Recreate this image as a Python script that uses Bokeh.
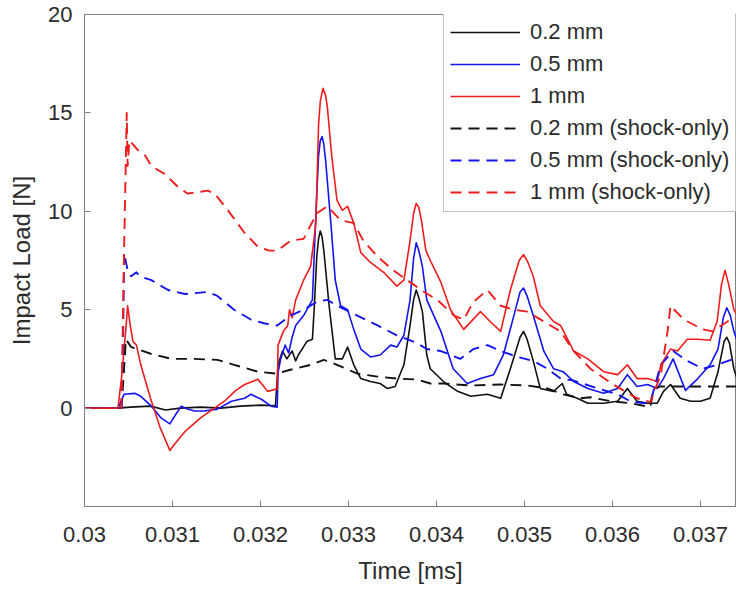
from bokeh.plotting import figure
from bokeh.models import Range1d, FixedTicker, Legend, LegendItem
from bokeh.embed import file_html
from bokeh.resources import INLINE

# ---------------- data ----------------
x_ticks = [0.030, 0.031, 0.032, 0.033, 0.034, 0.035, 0.036, 0.037]
x_tick_labels = ["0.03", "0.031", "0.032", "0.033", "0.034", "0.035", "0.036", "0.037"]
y_ticks = [0, 5, 10, 15, 20]
y_tick_labels = ["0", "5", "10", "15", "20"]

# 1 mm (solid)
t_1mm = [0.03000, 0.03038, 0.03042, 0.03047, 0.03049, 0.03052, 0.03055, 0.03059, 0.03064, 0.03075,
         0.03086, 0.03097, 0.03103, 0.03114, 0.03132, 0.03159, 0.03172, 0.03182, 0.03197, 0.03202,
         0.03208, 0.03216, 0.03219, 0.03220, 0.03226, 0.03231, 0.03233, 0.03236, 0.03240, 0.03249,
         0.03257, 0.03263, 0.03266, 0.03268, 0.03271, 0.03274, 0.03276, 0.03281, 0.03287, 0.03293,
         0.03299, 0.03306, 0.03314, 0.03325, 0.03340, 0.03355, 0.03363, 0.03370, 0.03374, 0.03377,
         0.03380, 0.03383, 0.03388, 0.03393, 0.03405, 0.03416, 0.03431, 0.03450, 0.03461, 0.03473,
         0.03484, 0.03494, 0.03499, 0.03504, 0.03510, 0.03518, 0.03533, 0.03541, 0.03556, 0.03572,
         0.03590, 0.03606, 0.03617, 0.03628, 0.03640, 0.03651, 0.03655, 0.03666, 0.03674, 0.03685,
         0.03697, 0.03711, 0.03719, 0.03724, 0.03728, 0.03732, 0.03738, 0.03745]
f_1mm = [0.0, 0.0, 1.5, 4.0, 5.2, 4.2, 3.4, 3.2, 2.2, 0.5,
         -1.0, -2.15, -1.8, -1.2, -0.5, 0.35, 0.9, 1.2, 1.46, 1.2,
         0.85, 0.95, 0.95, 3.2, 3.9, 4.2, 5.0, 4.6, 5.5, 6.5,
         7.2, 9.4, 14.4, 15.6, 16.25, 15.9, 15.3, 12.8, 10.55, 10.05,
         10.25, 9.4, 7.9, 7.4, 6.9, 6.2, 6.5, 8.5, 9.9, 10.4,
         10.2, 9.5, 8.0, 7.5, 6.4, 5.0, 4.0, 4.9, 4.4, 3.9,
         6.0, 7.5, 7.8, 7.4, 6.7, 5.2, 4.4, 4.2, 2.9, 2.5,
         1.85, 1.7, 2.2, 1.5, 1.5, 1.35, 2.2, 3.0, 2.9, 3.5,
         3.5, 3.45, 4.4, 6.3, 7.0, 6.3, 5.0, 4.5]

# 0.5 mm (solid)
t_05mm = [0.03000, 0.03038, 0.03045, 0.03057, 0.03064, 0.03076, 0.03087, 0.03097, 0.03104, 0.03110,
          0.03117, 0.03125, 0.03136, 0.03151, 0.03167, 0.03182, 0.03189, 0.03201, 0.03212, 0.03219,
          0.03220, 0.03223, 0.03228, 0.03232, 0.03236, 0.03240, 0.03249, 0.03259, 0.03263, 0.03266,
          0.03268, 0.03270, 0.03272, 0.03274, 0.03280, 0.03285, 0.03291, 0.03299, 0.03306, 0.03314,
          0.03325, 0.03336, 0.03348, 0.03355, 0.03363, 0.03370, 0.03374, 0.03377, 0.03380, 0.03384,
          0.03389, 0.03405, 0.03419, 0.03435, 0.03450, 0.03465, 0.03476, 0.03488, 0.03495, 0.03499,
          0.03503, 0.03510, 0.03522, 0.03533, 0.03544, 0.03556, 0.03572, 0.03590, 0.03606, 0.03617,
          0.03628, 0.03640, 0.03651, 0.03658, 0.03669, 0.03683, 0.03697, 0.03711, 0.03720, 0.03726,
          0.03730, 0.03734, 0.03738, 0.03745]
f_05mm = [0.0, 0.0, 0.7, 0.75, 0.6, 0.1, -0.5, -0.8, -0.3, 0.1,
          -0.05, -0.15, -0.15, -0.05, 0.35, 0.5, 0.7, 0.45, 0.1, 0.05,
          1.8, 2.5, 3.2, 2.8, 3.6, 4.2, 4.7, 5.5, 9.9, 12.8,
          13.6, 13.8, 13.4, 12.6, 9.4, 6.5, 5.2, 5.0, 4.0, 3.0,
          2.6, 2.7, 3.2, 3.1, 3.7, 5.5, 7.6, 8.4, 8.0, 7.2,
          5.5, 3.9, 2.0, 1.25, 1.5, 1.7, 2.7, 4.7, 5.9, 6.1,
          5.7, 4.7, 2.9, 2.0, 1.85, 1.35, 1.0, 0.75, 1.0, 1.7,
          1.1, 1.2, 1.0, 1.5, 2.5, 0.9, 1.5, 2.2, 3.0, 4.6,
          5.1, 4.7, 3.9, 3.0]

# 0.2 mm (solid)
t_02mm = [0.03000, 0.03038, 0.03052, 0.03075, 0.03092, 0.03109, 0.03132, 0.03155, 0.03177, 0.03200,
          0.03217, 0.03220, 0.03225, 0.03230, 0.03236, 0.03240, 0.03243, 0.03253, 0.03259, 0.03261,
          0.03264, 0.03266, 0.03268, 0.03270, 0.03272, 0.03278, 0.03285, 0.03293, 0.03299, 0.03306,
          0.03314, 0.03325, 0.03336, 0.03344, 0.03353, 0.03363, 0.03370, 0.03374, 0.03377, 0.03380,
          0.03384, 0.03389, 0.03393, 0.03408, 0.03424, 0.03439, 0.03458, 0.03473, 0.03484, 0.03495,
          0.03499, 0.03503, 0.03510, 0.03518, 0.03533, 0.03543, 0.03548, 0.03560, 0.03572, 0.03590,
          0.03606, 0.03617, 0.03628, 0.03640, 0.03651, 0.03658, 0.03666, 0.03677, 0.03689, 0.03700,
          0.03711, 0.03720, 0.03727, 0.03730, 0.03733, 0.03738, 0.03745]
f_02mm = [0.0, 0.0, 0.05, 0.1, -0.1, 0.0, 0.05, 0.0, 0.1, 0.15,
          0.12, 2.2, 2.9, 2.5, 2.9, 2.4, 2.7, 3.4, 3.5, 5.0,
          7.7, 8.6, 9.0, 8.7, 8.0, 5.2, 2.5, 2.5, 3.1, 2.2,
          1.5, 1.35, 1.25, 1.0, 1.1, 2.2, 4.2, 5.5, 6.0, 5.6,
          4.9, 2.7, 2.0, 1.35, 0.85, 0.6, 0.7, 0.5, 2.0, 3.6,
          3.9, 3.5, 2.4, 1.0, 0.85, 1.25, 0.7, 0.5, 0.25, 0.25,
          0.35, 1.0, 0.35, 0.25, 0.25, 0.85, 1.2, 0.5, 0.35, 0.35,
          0.5, 1.85, 3.4, 3.6, 3.3, 2.0, 1.0]

# 0.2 mm (shock-only)
t_02s = [0.03000, 0.03042, 0.03045, 0.03047, 0.03053, 0.03060, 0.03076, 0.03099, 0.03125, 0.03151,
         0.03170, 0.03197, 0.03218, 0.03234, 0.03257, 0.03272, 0.03287, 0.03310, 0.03333, 0.03355,
         0.03378, 0.03393, 0.03408, 0.03439, 0.03473, 0.03503, 0.03526, 0.03544, 0.03564, 0.03575,
         0.03598, 0.03620, 0.03638, 0.03643, 0.03647, 0.03655, 0.03689, 0.03719, 0.03745]
f_02s = [0.0, 0.0, 2.0, 3.5, 3.1, 3.0, 2.75, 2.5, 2.5, 2.45,
         2.2, 1.85, 1.75, 1.95, 2.2, 2.45, 2.2, 1.75, 1.6, 1.5,
         1.45, 1.25, 1.25, 1.15, 1.2, 1.15, 1.0, 0.7, 0.5, 0.55,
         0.35, 0.25, 0.1, 0.05, 1.0, 1.1, 1.1, 1.1, 1.1]

# 0.5 mm (shock-only)
t_05s = [0.03000, 0.03042, 0.03044, 0.03045, 0.03049, 0.03053, 0.03059, 0.03063, 0.03076, 0.03095,
         0.03114, 0.03140, 0.03151, 0.03170, 0.03189, 0.03205, 0.03219, 0.03234, 0.03249, 0.03264,
         0.03276, 0.03287, 0.03310, 0.03333, 0.03355, 0.03378, 0.03389, 0.03405, 0.03427, 0.03442,
         0.03458, 0.03473, 0.03492, 0.03510, 0.03526, 0.03541, 0.03556, 0.03583, 0.03606, 0.03620,
         0.03635, 0.03643, 0.03655, 0.03669, 0.03685, 0.03703, 0.03719, 0.03738, 0.03745]
f_05s = [0.0, 0.0, 4.0, 7.9, 7.0, 6.7, 6.9, 6.7, 6.5, 6.0,
         5.8, 5.9, 5.7, 5.0, 4.5, 4.3, 4.2, 4.7, 5.0, 5.4,
         5.5, 5.2, 4.7, 4.2, 3.7, 3.3, 3.0, 2.9, 2.5, 3.0,
         3.2, 2.9, 2.6, 2.4, 2.0, 1.5, 1.4, 1.0, 0.7, 0.35,
         0.25, 0.3, 2.2, 2.9, 2.4, 2.0, 2.2, 2.5, 2.6]

# 1 mm (shock-only)
t_1s = [0.03000, 0.03042, 0.03045, 0.03048, 0.03049, 0.03051, 0.03055, 0.03061, 0.03068, 0.03076,
        0.03091, 0.03106, 0.03117, 0.03140, 0.03148, 0.03163, 0.03182, 0.03197, 0.03210, 0.03219,
        0.03234, 0.03249, 0.03264, 0.03276, 0.03291, 0.03306, 0.03317, 0.03333, 0.03351, 0.03370,
        0.03386, 0.03401, 0.03420, 0.03431, 0.03442, 0.03458, 0.03473, 0.03488, 0.03503, 0.03522,
        0.03541, 0.03556, 0.03575, 0.03601, 0.03628, 0.03643, 0.03655, 0.03663, 0.03666, 0.03681,
        0.03703, 0.03714, 0.03734, 0.03745]
f_1s = [0.0, 0.0, 8.0, 15.0, 12.3, 13.6, 13.4, 13.1, 12.9, 12.3,
        11.9, 11.25, 10.9, 11.05, 10.9, 10.05, 8.9, 8.2, 8.0, 8.0,
        8.5, 8.6, 9.9, 10.25, 9.55, 9.4, 8.5, 7.7, 7.0, 6.4,
        5.9, 5.5, 4.7, 4.5, 5.4, 6.0, 5.2, 5.0, 4.9, 4.4,
        3.9, 2.9, 2.0, 1.2, 0.5, 0.3, 1.7, 4.0, 5.2, 4.5,
        4.0, 3.9, 4.5, 4.6]

series = [
    ("0.2 mm", t_02mm, f_02mm, "#111111", "solid"),
    ("0.5 mm", t_05mm, f_05mm, "#1414f0", "solid"),
    ("1 mm", t_1mm, f_1mm, "#ee1c1c", "solid"),
    ("0.2 mm (shock-only)", t_02s, f_02s, "#111111", "11 7"),
    ("0.5 mm (shock-only)", t_05s, f_05s, "#1414f0", "11 7"),
    ("1 mm (shock-only)", t_1s, f_1s, "#ee1c1c", "11 7"),
]

# ---------------- figure ----------------
FONT = "Liberation Sans"
TXT = "#2b2b2b"
AX = "#808080"

p = figure(width=736, height=592, output_backend="svg", toolbar_location=None,
           x_range=Range1d(0.03, 0.03741), y_range=Range1d(-5, 20),
           min_border_left=84, min_border_right=0, min_border_top=14, min_border_bottom=86)
p.background_fill_color = "white"
p.border_fill_color = "white"
p.outline_line_color = AX
p.outline_line_width = 1
p.xgrid.visible = False
p.ygrid.visible = False

items = []
for name, t, f, col, dash in series:
    lw = 1.6 if dash == "solid" else 1.9
    r = p.line(t, f, line_color=col, line_width=lw, line_dash=dash, line_join="round")
    items.append(LegendItem(label=name, renderers=[r]))

for ax in (p.xaxis[0], p.yaxis[0]):
    ax.axis_line_color = AX
    ax.major_tick_line_color = AX
    ax.major_tick_in = 6
    ax.major_tick_out = 0
    ax.minor_tick_line_color = None
    ax.major_label_text_font = FONT
    ax.major_label_text_font_size = "22px"
    ax.major_label_text_color = TXT
    ax.axis_label_text_font = FONT
    ax.axis_label_text_font_size = "24px"
    ax.axis_label_text_font_style = "normal"
    ax.axis_label_text_color = TXT

p.xaxis[0].ticker = FixedTicker(ticks=x_ticks)
p.xaxis[0].major_label_overrides = {t: l for t, l in zip(x_ticks, x_tick_labels)}
p.xaxis[0].major_label_standoff = 20
p.xaxis[0].axis_label = "Time [ms]"
p.xaxis[0].axis_label_standoff = 12

p.yaxis[0].ticker = FixedTicker(ticks=y_ticks)
p.yaxis[0].major_label_overrides = {t: l for t, l in zip(y_ticks, y_tick_labels)}
p.yaxis[0].major_label_standoff = 12
p.yaxis[0].axis_label = "Impact Load [N]"
p.yaxis[0].axis_label_standoff = 10

legend = Legend(items=items, location=(359, 294), orientation="vertical")
legend.label_text_font = FONT
legend.label_text_font_size = "22px"
legend.label_text_color = TXT
legend.glyph_width = 70
legend.glyph_height = 26
legend.label_height = 26
legend.label_standoff = 10
legend.spacing = 6
legend.padding = 6
legend.margin = 0
legend.border_line_color = AX
legend.border_line_width = 1
legend.background_fill_color = "white"
legend.background_fill_alpha = 1.0
p.add_layout(legend, "center")

open("out.html", "w").write(file_html(p, INLINE))
